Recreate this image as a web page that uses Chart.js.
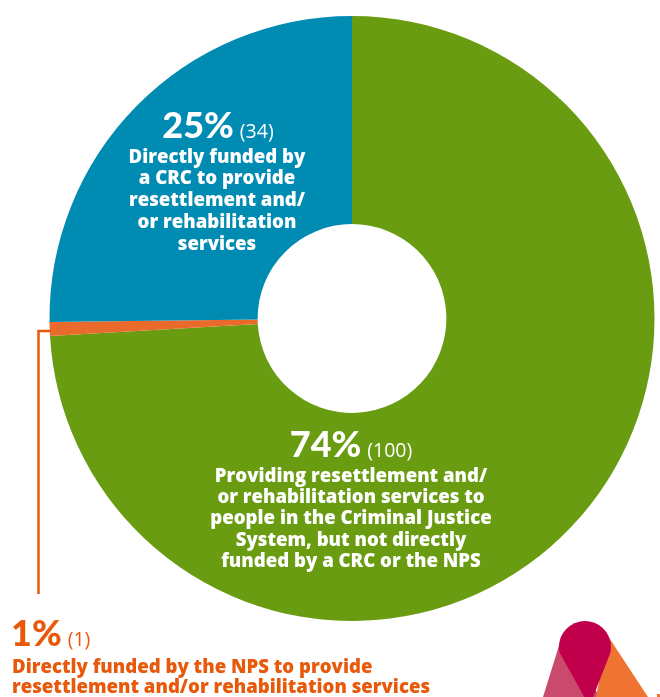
<!DOCTYPE html>
<html>
<head>
<meta charset="utf-8">
<script src="https://cdn.jsdelivr.net/npm/chart.js@4"></script>
<style>
  html, body { margin: 0; padding: 0; background: #ffffff; }
  #wrap { position: relative; width: 660px; height: 697px; overflow: hidden; }
  canvas { display: block; }
</style>
</head>
<body>
<div id="wrap"><canvas id="c" width="660" height="697"></canvas></div>
<script>
// ---- data ----
const categories = [
  'Providing resettlement and/or rehabilitation services to people in the Criminal Justice System, but not directly funded by a CRC or the NPS',
  'Directly funded by the NPS to provide resettlement and/or rehabilitation services',
  'Directly funded by a CRC to provide resettlement and/or rehabilitation services'
];
const counts = [100, 1, 34];
const sliceColors = ['#6a9c12', '#e96a2a', '#008bb2'];
const labelLines = [
  ['Providing resettlement and/', 'or rehabilitation services to', 'people in the Criminal Justice', 'System, but not directly', 'funded by a CRC or the NPS'],
  ['Directly funded by the NPS to provide', 'resettlement and/or rehabilitation services'],
  ['Directly funded by', 'a CRC to provide', 'resettlement and/', 'or rehabilitation', 'services']
];

const total = counts.reduce((a, b) => a + b, 0);
const pct = counts.map(v => Math.round(v / total * 100) + '%');

const BIGFONT = 'Lato, "Open Sans", "DejaVu Sans", sans-serif';
const TXTFONT = '"Open Sans", Lato, "DejaVu Sans", sans-serif';
const ORANGE_TEXT = '#e8590c';

function drawPctLine(ctx, big, small, x, y, align, color) {
  ctx.save();
  ctx.fillStyle = color;
  ctx.textBaseline = 'alphabetic';
  ctx.font = '900 36px ' + BIGFONT;
  const wBig = ctx.measureText(big).width;
  ctx.font = '400 19.5px ' + TXTFONT;
  const gap = 6;
  const wSmall = ctx.measureText(small).width;
  let x0 = align === 'center' ? x - (wBig + gap + wSmall) / 2 : x;
  ctx.textAlign = 'left';
  ctx.font = '900 36px ' + BIGFONT;
  ctx.fillText(big, x0, y);
  ctx.font = '400 19.5px ' + TXTFONT;
  ctx.fillText(small, x0 + wBig + gap, y);
  ctx.restore();
}

function drawLines(ctx, lines, x, y0, step, align, color) {
  ctx.save();
  ctx.fillStyle = color;
  ctx.textAlign = align;
  ctx.textBaseline = 'middle';
  ctx.font = '800 18.6px ' + TXTFONT;
  lines.forEach((l, i) => ctx.fillText(l, x, y0 + i * step));
  ctx.restore();
}

const labelPlugin = {
  id: 'labels',
  afterDatasetsDraw(chart) {
    const ctx = chart.ctx;
    const meta = chart.getDatasetMeta(0);
    const cx = meta.data[0].x, cy = meta.data[0].y;
    const R = meta.data[0].outerRadius;

    // green label
    drawPctLine(ctx, pct[0], '(' + counts[0] + ')', cx - 1, cy + 138, 'center', '#ffffff');
    drawLines(ctx, labelLines[0], cx - 1, cy + 158, 21.3, 'center', '#ffffff');

    // blue label
    drawPctLine(ctx, pct[2], '(' + counts[2] + ')', cx - 134, cy - 181, 'center', '#ffffff');
    drawLines(ctx, labelLines[2], cx - 135, cy - 161, 21.7, 'center', '#ffffff');

    // orange leader line from the small slice
    const arc = meta.data[1];
    const mid = (arc.startAngle + arc.endAngle) / 2;
    const sx = cx + Math.cos(mid) * R;
    const sy = cy + Math.sin(mid) * R + 2;
    ctx.save();
    ctx.strokeStyle = ORANGE_TEXT;
    ctx.lineWidth = 2.5;
    ctx.beginPath();
    ctx.moveTo(sx + 1, sy);
    ctx.lineTo(38.5, sy);
    ctx.lineTo(38.5, 594);
    ctx.stroke();
    ctx.restore();

    // orange label
    drawPctLine(ctx, pct[1], '(' + counts[1] + ')', 11, 646, 'left', ORANGE_TEXT);
    drawLines(ctx, labelLines[1], 12, 668, 20, 'left', ORANGE_TEXT);

    // decorative logo (bottom-right corner)
    ctx.save();
    ctx.fillStyle = '#c94a6c';
    ctx.beginPath();
    ctx.moveTo(543, 697); ctx.lineTo(562, 636); ctx.lineTo(600, 697); ctx.closePath();
    ctx.fill();
    ctx.fillStyle = '#ef7432';
    ctx.beginPath();
    ctx.moveTo(596, 697); ctx.lineTo(608, 636); ctx.lineTo(648, 697); ctx.closePath();
    ctx.fill();
    ctx.fillStyle = '#c0004a';
    ctx.beginPath();
    ctx.arc(585, 647, 26, Math.PI * 0.93, Math.PI * 2.07);
    ctx.lineTo(592, 700);
    ctx.lineTo(586, 700);
    ctx.closePath();
    ctx.fill();
    ctx.fillStyle = '#ef7432';
    ctx.fillRect(657, 694, 3, 3);
    ctx.restore();
  }
};

new Chart(document.getElementById('c'), {
  type: 'doughnut',
  data: {
    labels: categories,
    datasets: [{
      data: counts,
      backgroundColor: sliceColors,
      borderWidth: 0,
      hoverOffset: 0
    }]
  },
  options: {
    responsive: false,
    animation: false,
    cutout: '31.2%',
    rotation: 0,
    layout: { padding: { left: 49.5, right: 5.5, top: 16, bottom: 76 } },
    plugins: {
      legend: { display: false },
      tooltip: { enabled: false }
    },
    events: []
  },
  plugins: [labelPlugin]
});
</script>
</body>
</html>
